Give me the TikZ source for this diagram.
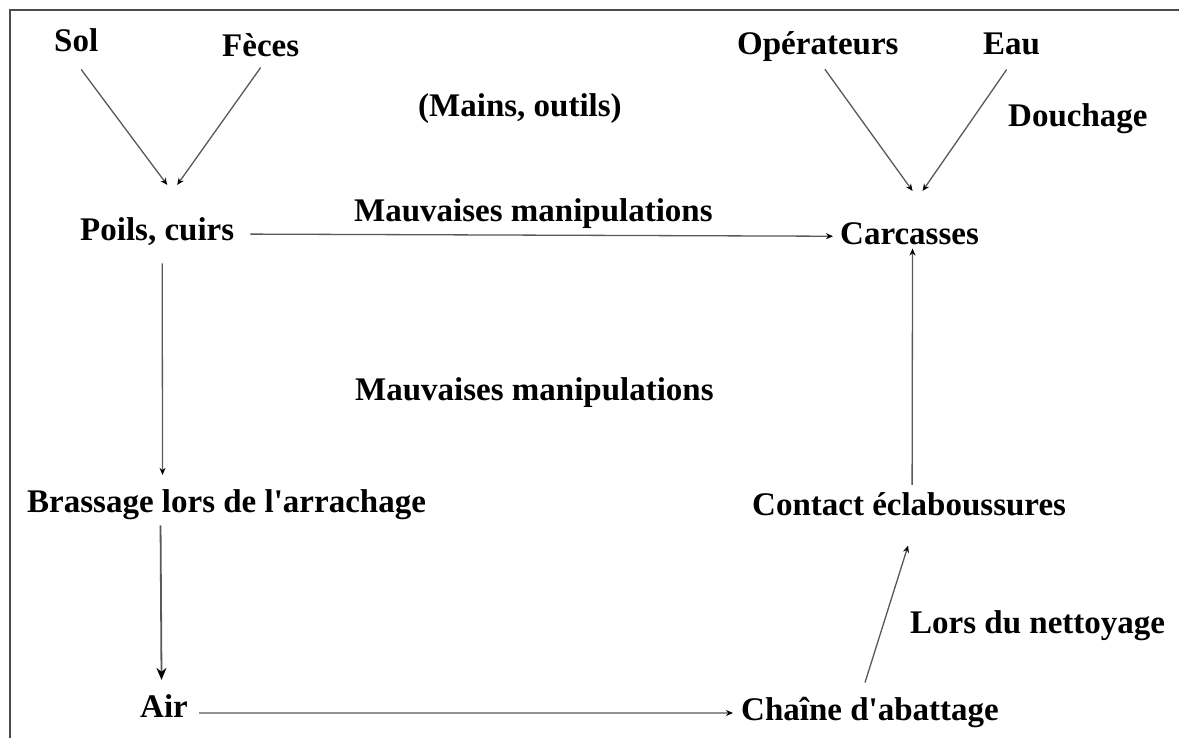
\documentclass[tikz,border=0pt]{standalone}
\usepackage{fontspec}
\setmainfont{Liberation Serif}[Ligatures=TeXOff]
\usetikzlibrary{arrows.meta}
\begin{document}
\begin{tikzpicture}[x=1pt,y=-1pt,
  lbl/.style={anchor=base west, inner sep=0pt, font=\fontsize{33}{40}\selectfont\bfseries},
  arr/.style={draw=black!65, line width=1.3pt, -{Stealth[length=7pt,width=6pt,color=black]}},
  bigarr/.style={draw=black!65, line width=1.8pt, -{Stealth[length=12pt,width=10pt,color=black]}},
  frame/.style={draw=black!70, line width=2.2pt}]
\useasboundingbox (0,0) rectangle (1179,738);
\fill[white] (0,0) rectangle (1179,738);
\draw[frame] (10,738) -- (10,10) -- (1179,10);

\node[lbl] (sol) at (54,52) {Sol};
\node[lbl] (feces) at (222,57) {Fèces};
\node[lbl] (mains) at (418,117) {(Mains, outils)};
\node[lbl] (oper) at (737,55) {Opérateurs};
\node[lbl] (eau) at (983,55) {Eau};
\node[lbl] (douch) at (1008,127) {Douchage};
\node[lbl] (poils) at (80,241) {Poils, cuirs};
\node[lbl] (mm1) at (354,222) {Mauvaises manipulations};
\node[lbl] (carc) at (840,245) {Carcasses};
\node[lbl] (mm2) at (355,400) {Mauvaises manipulations};
\node[lbl] (brass) at (27,512) {Brassage lors de l'arrachage};
\node[lbl] (contact) at (752,515) {Contact éclaboussures};
\node[lbl] (lors) at (910,633) {Lors du nettoyage};
\node[lbl] (air) at (140,717) {Air};
\node[lbl] (chaine) at (741,720) {Chaîne d'abattage};

\draw[arr] ([shift={(5,17)}]sol.south) -- ([shift={(10,-33)}]poils.north);
\draw[arr] ([shift={(0,10)}]feces.south) -- ([shift={(20,-33)}]poils.north);
\draw[arr] ([shift={(7,7)}]oper.south) -- ([shift={(3,-32)}]carc.north);
\draw[arr] ([shift={(-5,14)}]eau.south) -- ([shift={(13,-32)}]carc.north);
\draw[arr] ([shift={(16,2)}]poils.east) -- ([shift={(-7,2)}]carc.west);
\draw[arr] ([shift={(5,17)}]poils.south) -- ([shift={(-64,-14)}]brass.north);
\draw[bigarr] ([shift={(-66,6)}]brass.south) -- ([shift={(-2.5,-14)}]air.north);
\draw[arr] ([shift={(11,7.5)}]air.east) -- ([shift={(-8,1)}]chaine.west);
\draw[arr] ([shift={(-5,-14)}]chaine.north) -- ([shift={(-1,30)}]contact.south);
\draw[arr] ([shift={(3,-7)}]contact.north) -- ([shift={(3,3)}]carc.south);
\end{tikzpicture}
\end{document}
